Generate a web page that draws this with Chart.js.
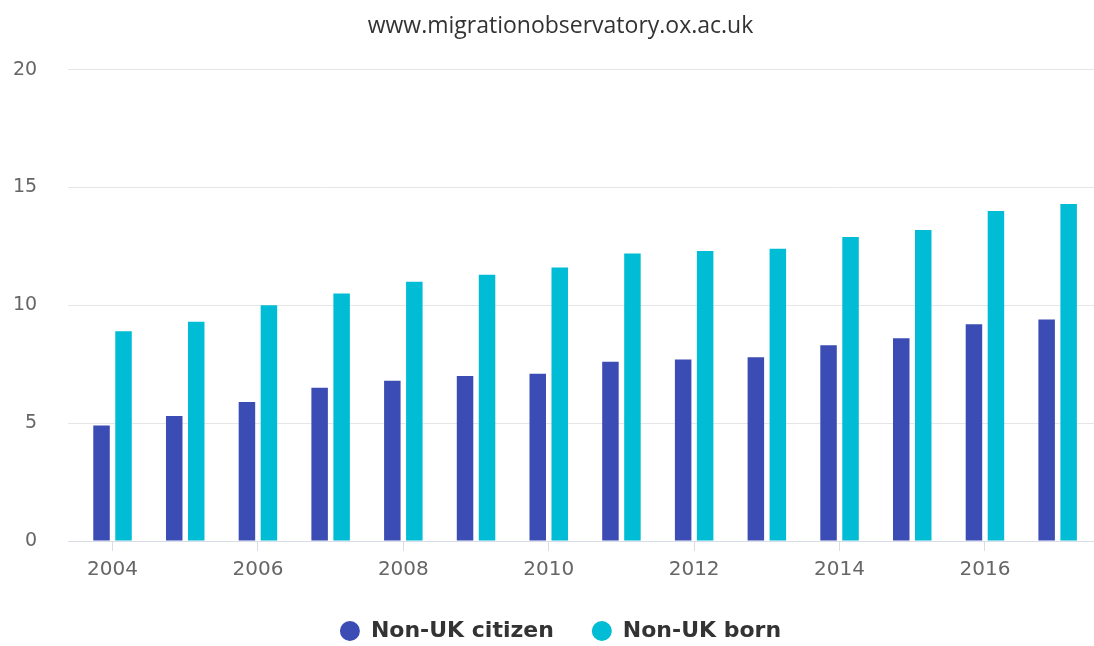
<!DOCTYPE html>
<html>
<head>
<meta charset="utf-8">
<script src="https://cdn.jsdelivr.net/npm/chart.js@4.4.1/dist/chart.umd.min.js"></script>
<style>
  html, body { margin: 0; padding: 0; background: #ffffff; }
  #wrap { width: 1094px; height: 646px; position: relative; }
</style>
</head>
<body>
<div id="wrap"><canvas id="c"></canvas></div>
<script>
const years = [2004, 2005, 2006, 2007, 2008, 2009, 2010, 2011, 2012, 2013, 2014, 2015, 2016, 2017];
const nonUkCitizen = [4.9, 5.3, 5.9, 6.5, 6.8, 7.0, 7.1, 7.6, 7.7, 7.8, 8.3, 8.6, 9.2, 9.4];
const nonUkBorn = [8.9, 9.3, 10.0, 10.5, 11.0, 11.3, 11.6, 12.2, 12.3, 12.4, 12.9, 13.2, 14.0, 14.3];
const xTickYears = [2004, 2006, 2008, 2010, 2012, 2014, 2016];
const yTickValues = [0, 5, 10, 15, 20];
const seriesNames = ['Non-UK citizen', 'Non-UK born'];
const titleText = 'www.migrationobservatory.ox.ac.uk';

const toPoints = (vals) => years.map((y, i) => ({ x: y, y: vals[i] }));

new Chart(document.getElementById('c'), {
  type: 'bar',
  data: {
    datasets: [
      { label: seriesNames[0], data: toPoints(nonUkCitizen), backgroundColor: '#3b4cb4', borderWidth: 0 },
      { label: seriesNames[1], data: toPoints(nonUkBorn), backgroundColor: '#00bcd4', borderWidth: 0 }
    ]
  },
  options: {
    responsive: true,
    maintainAspectRatio: false,
    animation: false,
    datasets: { bar: { categoryPercentage: 0.605, barPercentage: 0.75 } },
    layout: { padding: { left: 13, right: -14, top: 0, bottom: -6 } },
    plugins: {
      title: {
        display: true,
        text: titleText,
        color: '#333333',
        font: { family: '"Open Sans", sans-serif', size: 23, weight: 'normal' },
        padding: { top: 13, bottom: 29 }
      },
      legend: {
        display: true,
        position: 'bottom',
        labels: {
          usePointStyle: true,
          pointStyle: 'circle',
          boxHeight: 14,
          pointStyleWidth: 20,
          padding: 38,
          color: '#333333',
          font: { family: '"DejaVu Sans", sans-serif', size: 22, weight: 'bold' }
        }
      },
      tooltip: { enabled: false }
    },
    scales: {
      x: {
        type: 'linear',
        min: 2003.39,
        max: 2017.5,
        offset: false,
        grid: { display: true, offset: false, drawOnChartArea: false, drawTicks: true, tickLength: 10, color: '#d8dde8' },
        border: { display: true, color: '#d8dde8', width: 1 },
        afterBuildTicks: (scale) => { scale.ticks = xTickYears.map(v => ({ value: v })); },
        afterFit: (scale) => { scale.paddingLeft = 0; scale.paddingRight = 0; scale.height = 41; },
        ticks: {
          autoSkip: false,
          maxRotation: 0,
          padding: 6,
          color: '#666666',
          font: { family: '"DejaVu Sans", sans-serif', size: 20, lineHeight: 1.3 },
          callback: (v) => String(v)
        }
      },
      y: {
        min: 0,
        max: 20,
        afterBuildTicks: (scale) => { scale.ticks = yTickValues.map(v => ({ value: v })); },
        afterFit: (scale) => { scale.width = scale.width - 31; },
        grid: { color: '#e6e6e6', drawTicks: false, lineWidth: 1 },
        border: { display: false },
        ticks: {
          padding: 31,
          color: '#666666',
          font: { family: '"DejaVu Sans", sans-serif', size: 19 }
        }
      }
    }
  }
});
</script>
</body>
</html>
